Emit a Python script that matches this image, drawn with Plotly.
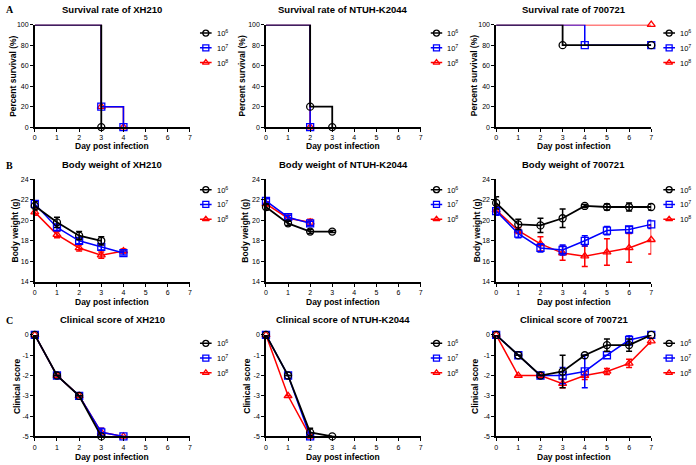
import plotly.graph_objects as go

W, H = 696, 465
FONT = "Liberation Sans, Arial, sans-serif"

days = [0, 1, 2, 3, 4, 5, 6, 7]
dose_labels = ["10<sup>6</sup>", "10<sup>7</sup>", "10<sup>8</sup>"]
colors = ["black", "#0000ff", "#ff0000"]
symbols = ["circle-open", "square-open", "triangle-up-open"]
line_widths = [1.8, 1.5, 1.5]
strains = ["XH210", "NTUH-K2044", "700721"]

# survival curves (Kaplan-Meier steps): day of each event, percent surviving after it
surv_xh210_days = [[0, 3], [0, 3, 4], [0, 3, 4]]
surv_xh210_pct = [[100, 0], [100, 20, 0], [100, 20, 0]]
surv_k2044_days = [[0, 2, 3], [0, 2], [0, 2]]
surv_k2044_pct = [[100, 20, 0], [100, 0], [100, 0]]
surv_700721_days = [[0, 3, 7], [0, 4, 7], [0, 7]]
surv_700721_pct = [[100, 80, 80], [100, 80, 80], [100, 100]]

# body weight (g), mean and error per day
bw_xh210 = [[21.4, 19.8, 18.5, 18.0], [21.6, 19.3, 18.0, 17.4, 16.8], [20.8, 18.6, 17.3, 16.6, 17.0]]
bw_xh210_err = [[0.4, 0.5, 0.4, 0.4], [0.3, 0.3, 0.3, 0.3, 0.2], [0.3, 0.3, 0.3, 0.3, 0.2]]
bw_k2044 = [[21.3, 19.7, 18.9, 18.9], [21.9, 20.3, 19.7], [21.6, 20.2, 19.8]]
bw_k2044_err = [[0.3, 0.2, 0.2, 0.1], [0.2, 0.2, 0.2], [0.2, 0.3, 0.3]]
bw_700721 = [[21.7, 19.6, 19.5, 20.2, 21.4, 21.3, 21.3, 21.3],
             [20.9, 18.7, 17.3, 17.1, 18.0, 19.0, 19.1, 19.6],
             [21.0, 19.0, 17.7, 16.8, 16.5, 16.9, 17.3, 18.1]]
bw_700721_err = [[0.6, 0.5, 0.7, 0.9, 0.15, 0.3, 0.4, 0.3],
                 [0.4, 0.4, 0.4, 0.5, 0.5, 0.4, 0.3, 0.4],
                 [0.5, 0.3, 0.7, 0.7, 1.0, 1.3, 1.4, 1.4]]

# clinical score, mean and error per day
cs_xh210 = [[0, -2, -3, -5], [0, -2, -3, -4.8, -5], [0, -2, -3, -4.8, -5]]
cs_xh210_err = [[0, 0, 0, 0], [0, 0, 0, 0.2, 0], [0, 0, 0, 0.2, 0]]
cs_k2044 = [[0, -2, -4.8, -5], [0, -2, -5], [0, -3, -5]]
cs_k2044_err = [[0, 0, 0.2, 0], [0, 0, 0], [0, 0, 0]]
cs_700721 = [[0, -1, -2, -1.8, -1.0, -0.5, -0.5, 0],
             [0, -1, -2, -2.0, -1.8, -1.0, -0.25, 0],
             [0, -2, -2, -2.4, -2.0, -1.8, -1.4, -0.3]]
cs_700721_err = [[0, 0, 0, 0.8, 0, 0.3, 0.3, 0],
                 [0, 0, 0, 0.4, 0.8, 0, 0.25, 0],
                 [0, 0, 0, 0.2, 0.2, 0.15, 0.2, 0.15]]

cs_ticks = [0, -1, -2, -3, -4, -5]
cs_ticktext = ["0", "-1", "-2", "-3", "-4", "-5"]

# pixel geometry of the panels
col_px = [(33, 189), (265.5, 421), (497, 653)]
row_px = [(21, 125), (178, 282), (336, 439)]
legend_col_px = [(199, 211), (431, 443), (665, 677)]
legend_row_px = [(22, 67), (181, 226), (337, 382)]
ytitle_px = [[11, 13, 14.5], [241, 243.5, 246.5], [475, 477.5, 475]]
title_py = [6, 163, 320]
xtitle_py = [144.5, 302.5, 459.5]
letter_py = [6, 163.5, 321]


def fx(p):
    return p / W


def fy(p):
    return 1 - p / H


rows = [
    dict(kind="surv", name="Survival rate of {}", ytitle="Percent survival (%)",
         xs=[surv_xh210_days, surv_k2044_days, surv_700721_days],
         ys=[surv_xh210_pct, surv_k2044_pct, surv_700721_pct], errs=None,
         yrange=[0, 100], tickvals=[0, 20, 40, 60, 80, 100], ticktext=None),
    dict(kind="bw", name="Body weight of {}", ytitle="Body weight (g)",
         xs=None, ys=[bw_xh210, bw_k2044, bw_700721],
         errs=[bw_xh210_err, bw_k2044_err, bw_700721_err],
         yrange=[14, 24], tickvals=[14, 16, 18, 20, 22, 24], ticktext=None),
    dict(kind="cs", name="Clinical score of {}", ytitle="Clinical score",
         xs=None, ys=[cs_xh210, cs_k2044, cs_700721],
         errs=[cs_xh210_err, cs_k2044_err, cs_700721_err],
         yrange=[-5, 0], tickvals=cs_ticks, ticktext=cs_ticktext),
]

fig = go.Figure()
layout = {}
annotations = []

for r, row in enumerate(rows):
    for c in range(3):
        k = r * 3 + c + 1
        sfx = "" if k == 1 else str(k)
        xref, yref = "x" + sfx, "y" + sfx
        (x0, x1), (yt, yb) = col_px[c], row_px[r]
        axis_common = dict(
            showline=True, linecolor="black", linewidth=1.5, ticks="outside",
            ticklen=3, tickwidth=1, tickcolor="black", showgrid=False,
            zeroline=False, fixedrange=True,
            tickfont=dict(family=FONT, size=7, color="black"),
        )
        layout["xaxis" + sfx] = dict(
            axis_common, domain=[fx(x0), fx(x1)], range=[0, 7],
            tickvals=days, anchor=yref,
        )
        layout["yaxis" + sfx] = dict(
            axis_common, domain=[fy(yb), fy(yt)], range=row["yrange"],
            tickvals=row["tickvals"], anchor=xref,
            **({"ticktext": row["ticktext"]} if row["ticktext"] else {}),
        )

        # red drawn first so black ends up on top, as in the original
        for s in [2, 1, 0]:
            yvals = row["ys"][c][s]
            if row["kind"] == "surv":
                xvals = row["xs"][c][s]
                fig.add_trace(go.Scatter(
                    x=xvals, y=yvals, xaxis=xref, yaxis=yref,
                    mode="lines+markers",
                    line=dict(color=colors[s], width=line_widths[s], shape="hv"),
                    marker=dict(symbol=symbols[s], size=7, color=colors[s],
                                line=dict(width=1.3),
                                opacity=[0] + [1] * (len(xvals) - 1)),
                    cliponaxis=False, showlegend=False, hoverinfo="skip",
                ))
            else:
                fig.add_trace(go.Scatter(
                    x=days[:len(yvals)], y=yvals, xaxis=xref, yaxis=yref,
                    mode="lines+markers", line=dict(color=colors[s], width=line_widths[s]),
                    marker=dict(symbol=symbols[s], size=7, color=colors[s],
                                line=dict(width=1.3)),
                    error_y=dict(type="data", array=row["errs"][c][s],
                                 color=colors[s], thickness=1.5, width=3),
                    cliponaxis=False, showlegend=False, hoverinfo="skip",
                ))

        # legend keys on a small hidden axis pair
        lk = 9 + k
        lx, ly = "x" + str(lk), "y" + str(lk)
        (lx0, lx1), (ly0, ly1) = legend_col_px[c], legend_row_px[r]
        layout["xaxis" + str(lk)] = dict(domain=[fx(lx0), fx(lx1)], range=[0, 1],
                                         visible=False, fixedrange=True, anchor=ly)
        layout["yaxis" + str(lk)] = dict(domain=[fy(ly1), fy(ly0)], range=[2.5, -0.5],
                                         visible=False, fixedrange=True, anchor=lx)
        for s in range(3):
            fig.add_trace(go.Scatter(
                x=[0, 0.5, 1], y=[s, s, s], xaxis=lx, yaxis=ly,
                mode="lines+markers", line=dict(color=colors[s], width=1.5),
                marker=dict(symbol=symbols[s], size=6, color=colors[s],
                            line=dict(width=1.3), opacity=[0, 1, 0]),
                cliponaxis=False, showlegend=False, hoverinfo="skip",
            ))
            annotations.append(dict(
                x=1, y=s, xref=lx, yref=ly, text=dose_labels[s], showarrow=False,
                xanchor="left", yanchor="middle", xshift=3,
                font=dict(family=FONT, size=7.5, color="black"),
            ))

        # titles
        cx = fx((x0 + x1) / 2)
        annotations.append(dict(
            x=cx, y=fy(title_py[r]), xref="paper", yref="paper",
            text="<b>" + row["name"].format(strains[c]) + "</b>", showarrow=False,
            xanchor="center", yanchor="middle",
            font=dict(family=FONT, size=9.5, color="black"),
        ))
        annotations.append(dict(
            x=cx, y=fy(xtitle_py[r]), xref="paper", yref="paper",
            text="<b>Day post infection</b>", showarrow=False,
            xanchor="center", yanchor="middle",
            font=dict(family=FONT, size=8.5, color="black"),
        ))
        annotations.append(dict(
            x=fx(ytitle_px[c][r]), y=fy((yt + yb) / 2), xref="paper", yref="paper",
            text="<b>" + row["ytitle"] + "</b>", showarrow=False, textangle=-90,
            xanchor="center", yanchor="middle",
            font=dict(family=FONT, size=8.5, color="black"),
        ))

    annotations.append(dict(
        x=fx(2), y=fy(letter_py[r]), xref="paper", yref="paper",
        text="<b>" + "ABC"[r] + "</b>", showarrow=False,
        xanchor="left", yanchor="middle",
        font=dict(family="Liberation Serif, Times New Roman, serif", size=10, color="black"),
    ))

fig.update_layout(
    **layout,
    annotations=annotations,
    width=W, height=H,
    margin=dict(l=0, r=0, t=0, b=0),
    plot_bgcolor="white", paper_bgcolor="white",
    showlegend=False,
    font=dict(family=FONT, color="black"),
)

# the page's default body margin would push the 696x465 figure off the window
fig.write_html("out.html", config={"displayModeBar": False},
               post_script="document.body.style.margin='0';")
